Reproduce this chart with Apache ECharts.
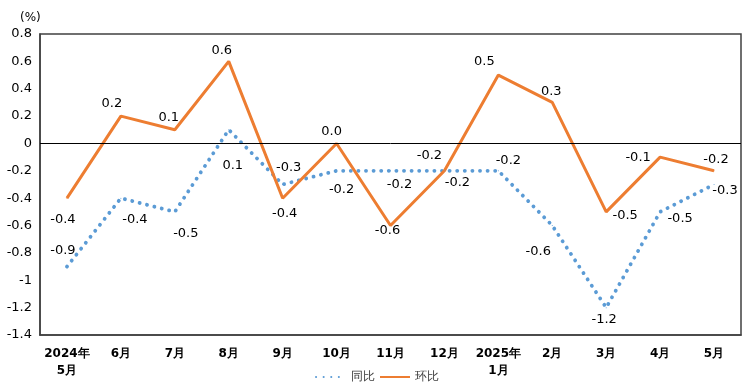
<!DOCTYPE html>
<html><head><meta charset="utf-8">
<script src="https://cdn.jsdelivr.net/npm/echarts@6/dist/echarts.min.js"></script>
<style>html,body{margin:0;padding:0;background:#fff}#c{width:754px;height:390px}</style>
</head><body><div id="c"></div>
<script>
const categories = ['2024年\n5月','6月','7月','8月','9月','10月','11月','12月','2025年\n1月','2月','3月','4月','5月'];
const yoy = [-0.9,-0.4,-0.5,0.1,-0.3,-0.2,-0.2,-0.2,-0.2,-0.6,-1.2,-0.5,-0.3];
const mom = [-0.4,0.2,0.1,0.6,-0.4,0.0,-0.6,-0.2,0.5,0.3,-0.5,-0.1,-0.2];
const yoyLabelOffset = [[-4,-16],[14,21],[11,22],[4,36],[6,-17],[5,19],[9,14],[13,12],[10,-10],[-14,26],[-2,12],[20,7],[11,6]];
const momLabelOffset = [[-4,21],[-9,-12],[-6,-12],[-7,-11],[2,15],[-5,-12],[-3,5],[-15,-15],[-14,-13],[-1,-11],[19,4],[-22,0],[2,-11]];

const fmt = v => v.toFixed(1);
function build(vals, offs){
  return vals.map((v,i)=>({value:v,label:{offset:offs[i]}}));
}
const chart = echarts.init(document.getElementById('c'));
chart.setOption({
  animation:false,
  textStyle:{fontFamily:'DejaVu Sans'},
  title:{text:'(%)',left:15,top:7,textStyle:{fontSize:12,fontWeight:'normal',color:'#000',fontFamily:'DejaVu Sans'}},
  grid:{left:40,right:13,top:34,bottom:55,show:true,borderColor:'#404040',borderWidth:1.5},
  legend:{bottom:2,left:'center',itemWidth:30,itemHeight:10,itemGap:4,
    textStyle:{fontSize:12,color:'#404040'},
    data:[{name:'同比',itemStyle:{opacity:0}},{name:'环比',itemStyle:{opacity:0}}]},
  xAxis:{type:'category',data:categories,boundaryGap:true,
    axisLine:{onZero:false,lineStyle:{color:'#404040',width:1.5}},axisTick:{show:false},
    axisLabel:{fontSize:12,fontWeight:'bold',color:'#000',interval:0,margin:10,lineHeight:17}},
  yAxis:{type:'value',min:-1.4,max:0.8,interval:0.2,
    splitLine:{show:false},axisTick:{show:false},
    axisLine:{show:true,lineStyle:{color:'#404040',width:1.5}},
    axisLabel:{fontSize:13,color:'#000',margin:8,formatter:v=>String(Number(v.toFixed(1)))}},
  series:[
    {name:'同比',type:'line',data:build(yoy,yoyLabelOffset),symbol:'circle',symbolSize:1,
      lineStyle:{color:'#5B9BD5',width:3.8,type:[0.1,7.5],cap:'round'},itemStyle:{color:'#5B9BD5'},
      label:{show:true,position:'inside',fontSize:13,color:'#000',formatter:p=>fmt(p.value)},
      markLine:{silent:true,symbol:'none',label:{show:false},lineStyle:{color:'#000',width:1,type:'solid'},data:[{yAxis:0}]}},
    {name:'环比',type:'line',data:build(mom,momLabelOffset),symbol:'circle',symbolSize:1,
      lineStyle:{color:'#ED7D31',width:3},itemStyle:{color:'#ED7D31'},
      label:{show:true,position:'inside',fontSize:13,color:'#000',formatter:p=>fmt(p.value)}}
  ]
});
</script></body></html>
